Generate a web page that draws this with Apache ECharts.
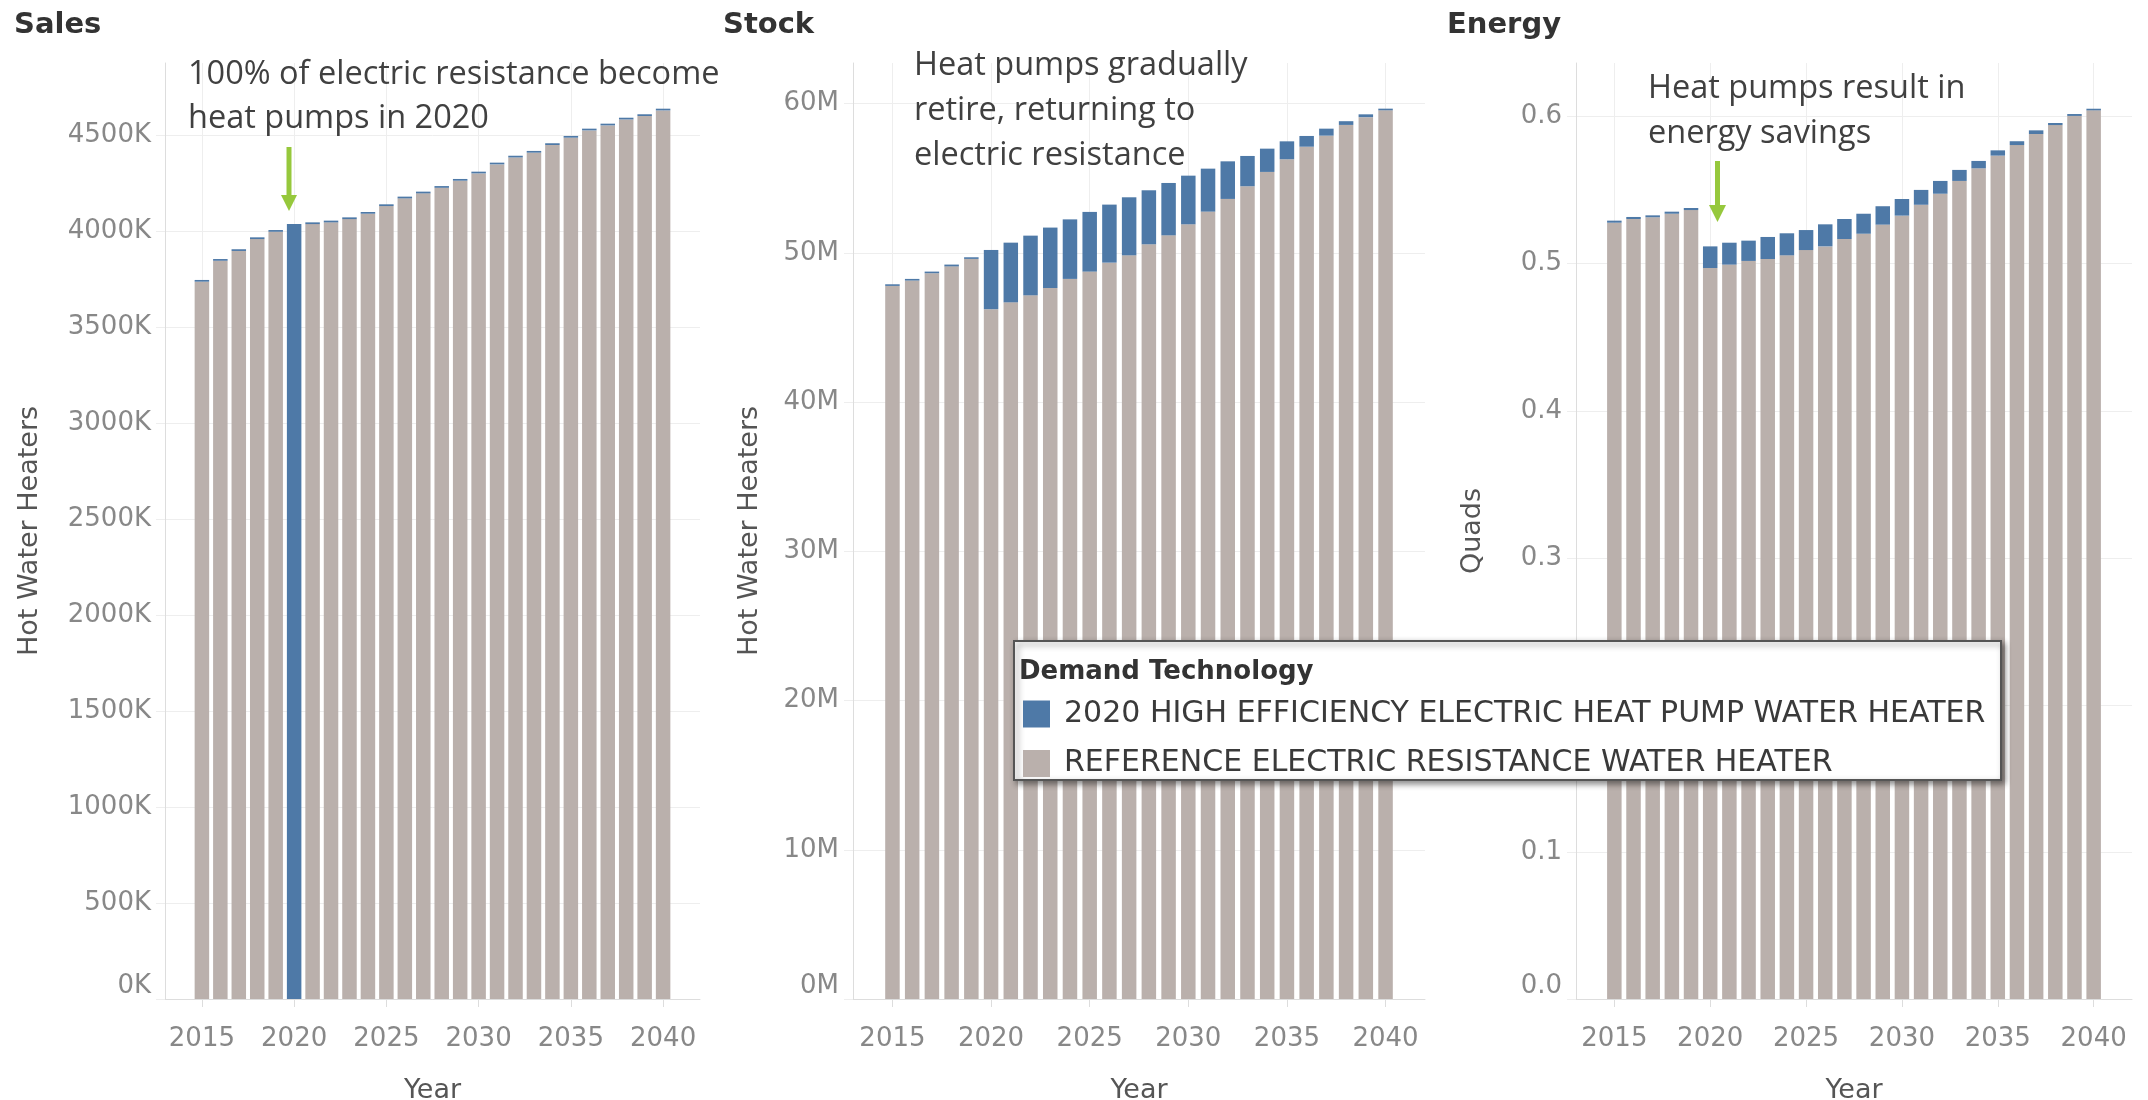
<!DOCTYPE html>
<html>
<head>
<meta charset="utf-8">
<script src="https://cdn.jsdelivr.net/npm/echarts@6/dist/echarts.min.js"></script>
<style>
html,body{margin:0;padding:0;background:#fff;}
#c{width:2148px;height:1100px;}
</style>
</head>
<body>
<div id="c"></div>
<script>
// ---------------- data ----------------
const years = [2015,2016,2017,2018,2019,2020,2021,2022,2023,2024,2025,2026,2027,2028,2029,2030,2031,2032,2033,2034,2035,2036,2037,2038,2039,2040];
// axis categories (the year axis runs two years past the data on each side)
const axisYears = ['2013','2014','2015','2016','2017','2018','2019','2020','2021','2022','2023','2024','2025','2026','2027','2028','2029','2030','2031','2032','2033','2034','2035','2036','2037','2038','2039','2040','2041','2042'];

// Sales (thousands of hot water heaters)
const salesReference = [3736,3845,3896,3958,3996,0,4036,4045,4062,4090,4130,4170,4196,4225,4262,4300,4347,4383,4408,4448,4486,4524,4550,4581,4599,4628];
const salesHeatPump  = [9,9,9,9,9,4036,9,9,9,9,9,9,9,9,9,9,9,9,9,9,9,9,9,9,9,9];

// Stock (millions of hot water heaters)
const stockReference = [47.79,48.15,48.64,49.10,49.60,46.23,46.69,47.16,47.65,48.26,48.75,49.35,49.84,50.58,51.18,51.92,52.77,53.62,54.47,55.43,56.28,57.12,57.86,58.58,59.10,59.56];
const stockHeatPump  = [0.11,0.11,0.11,0.12,0.11,3.97,4.00,4.00,4.05,3.99,4.00,3.89,3.89,3.62,3.51,3.26,2.88,2.52,2.03,1.56,1.20,0.72,0.47,0.25,0.19,0.11];

// Energy (quads)
const energyReference = [0.5279,0.5304,0.5316,0.5340,0.5365,0.4971,0.4994,0.5019,0.5032,0.5057,0.5093,0.5118,0.5168,0.5204,0.5266,0.5327,0.5401,0.5476,0.5563,0.5649,0.5735,0.5807,0.5882,0.5943,0.6005,0.6043];
const energyHeatPump  = [0.0014,0.0014,0.0013,0.0014,0.0014,0.0147,0.0149,0.0138,0.0150,0.0150,0.0136,0.0150,0.0136,0.0136,0.0125,0.0113,0.0101,0.0087,0.0075,0.0050,0.0036,0.0026,0.0025,0.0014,0.0013,0.0011];

// tick labels
const yearTicks   = ['2015','2020','2025','2030','2035','2040'];
const salesTicks  = [0,500,1000,1500,2000,2500,3000,3500,4000,4500];
const stockTicks  = [0,10,20,30,40,50,60];
const energyTicks = [0,0.1,0.2,0.3,0.4,0.5,0.6];

const HP_NAME  = '2020 HIGH EFFICIENCY ELECTRIC HEAT PUMP WATER HEATER';
const REF_NAME = 'REFERENCE ELECTRIC RESISTANCE WATER HEATER';
const panelTitles = ['Sales','Stock','Energy'];
const yTitles = ['Hot Water Heaters','Hot Water Heaters','Quads'];

// ---------------- styling ----------------
const FONT = "'DejaVu Sans', sans-serif";
const GRAY = '#bab0ac';
const BLUE = '#4e79a7';
const GRID_COLOR = '#eeeeee';
const AXIS_COLOR = '#dddddd';
const LABEL_COLOR = '#888888';

const grids = [
  {left:165,  top:63, width:535, height:936, outerBoundsMode: 'none', containLabel: false},
  {left:853,  top:63, width:572, height:936, outerBoundsMode: 'none', containLabel: false},
  {left:1576, top:63, width:556, height:936, outerBoundsMode: 'none', containLabel: false}
];
const yMax = [4875, 62.73, 0.6365];
const yTickSets = [salesTicks, stockTicks, energyTicks];
const yFormat = [v => v + 'K', v => v + 'M', v => v.toFixed(1)];
const yNameGap = [122, 90, 90];
const isYearTick = (idx, val) => yearTicks.indexOf(String(val)) >= 0;

const xAxes = grids.map((g, i) => ({
  type: 'category', gridIndex: i, data: axisYears, boundaryGap: false,
  name: 'Year', nameLocation: 'middle', nameGap: 78,
  nameTextStyle: {fontFamily: FONT, fontSize: 27, color: '#555555'},
  axisLine: {show: true, lineStyle: {color: AXIS_COLOR, width: 1}},
  axisTick: {show: true, length: 8, interval: isYearTick, lineStyle: {color: AXIS_COLOR}},
  axisLabel: {interval: isYearTick, fontFamily: FONT, fontSize: 26, color: LABEL_COLOR, margin: 27},
  splitLine: {show: true, interval: isYearTick, lineStyle: {color: GRID_COLOR, width: 1}}
}));

const yAxes = grids.map((g, i) => ({
  type: 'value', gridIndex: i, min: 0, max: yMax[i],
  name: yTitles[i], nameLocation: 'middle', nameGap: yNameGap[i], nameRotate: 90,
  nameTextStyle: {fontFamily: FONT, fontSize: 27, color: '#555555'},
  axisLine: {show: true, lineStyle: {color: AXIS_COLOR, width: 1}},
  axisTick: {show: true, length: 9, lineStyle: {color: GRID_COLOR}, customValues: yTickSets[i]},
  axisLabel: {customValues: yTickSets[i], fontFamily: FONT, fontSize: 26, color: LABEL_COLOR, margin: 14,
              formatter: yFormat[i], verticalAlignMinLabel: 'bottom'},
  splitLine: {show: true, lineStyle: {color: GRID_COLOR, width: 1}}
}));

const refSets = [salesReference, stockReference, energyReference];
const hpSets  = [salesHeatPump, stockHeatPump, energyHeatPump];
const series = [];
grids.forEach((g, i) => {
  series.push({
    type: 'bar', name: REF_NAME, xAxisIndex: i, yAxisIndex: i, stack: 'p' + i,
    barWidth: 14.5, itemStyle: {color: GRAY},
    data: years.map((y, k) => [String(y), refSets[i][k]])
  });
  series.push({
    type: 'bar', name: HP_NAME, xAxisIndex: i, yAxisIndex: i, stack: 'p' + i,
    barWidth: 14.5, itemStyle: {color: BLUE},
    data: years.map((y, k) => [String(y), hpSets[i][k]])
  });
});

function txt(x, y, text, font, fill, va, lh, z) {
  return {type: 'text', x: x, y: y, z: z || 20, silent: true,
    style: {text: text, font: font, fill: fill, align: 'left', textAlign: 'left',
            verticalAlign: va, textVerticalAlign: va, lineHeight: lh}};
}
const ARROW = '#96c83c';
const graphics = [
  txt(14,   25, panelTitles[0], "bold 29px 'DejaVu Sans'", '#333333', 'middle'),
  txt(723,  25, panelTitles[1], "bold 29px 'DejaVu Sans'", '#333333', 'middle'),
  txt(1447, 25, panelTitles[2], "bold 29px 'DejaVu Sans'", '#333333', 'middle'),
  txt(188, 53, '100% of electric resistance become\nheat pumps in 2020', "32.5px 'Open Sans'", '#404040', 'top', 44),
  txt(914, 43, 'Heat pumps gradually\nretire, returning to\nelectric resistance', "32.5px 'Open Sans'", '#404040', 'top', 45),
  txt(1648, 66, 'Heat pumps result in\nenergy savings', "32.5px 'Open Sans'", '#404040', 'top', 45),
  // arrows
  {type: 'rect', z: 20, silent: true, shape: {x: 286.5, y: 147, width: 5, height: 49}, style: {fill: ARROW}},
  {type: 'polygon', z: 20, silent: true, shape: {points: [[281, 195], [297, 195], [289, 211]]}, style: {fill: ARROW}},
  {type: 'rect', z: 20, silent: true, shape: {x: 1715, y: 161, width: 5, height: 45}, style: {fill: ARROW}},
  {type: 'polygon', z: 20, silent: true, shape: {points: [[1709, 205], [1726, 205], [1717.5, 222]]}, style: {fill: ARROW}},
  // legend box
  {type: 'rect', z: 50, silent: true, shape: {x: 1014, y: 641, width: 987, height: 139},
   style: {fill: '#ffffff', stroke: '#555555', lineWidth: 2, shadowBlur: 6, shadowOffsetX: 3, shadowOffsetY: 3,
           shadowColor: 'rgba(0,0,0,0.45)'}},
  txt(1019, 672, 'Demand Technology', "bold 26px 'DejaVu Sans'", '#333333', 'middle', null, 61)
];

const chart = echarts.init(document.getElementById('c'), null, {renderer: 'canvas'});
chart.setOption({
  animation: false,
  backgroundColor: '#ffffff',
  grid: grids,
  xAxis: xAxes,
  yAxis: yAxes,
  series: series,
  legend: {
    data: [HP_NAME, REF_NAME], orient: 'vertical', left: 1023, top: 699, padding: 0,
    itemWidth: 27, itemHeight: 27, itemGap: 19.5, icon: 'rect', selectedMode: false, z: 60,
    textStyle: {fontFamily: FONT, fontSize: 30, color: '#3a3a3a', lineHeight: 27, padding: [0, 0, 0, 9]}
  },
  graphic: {elements: graphics}
});
</script>
</body>
</html>
